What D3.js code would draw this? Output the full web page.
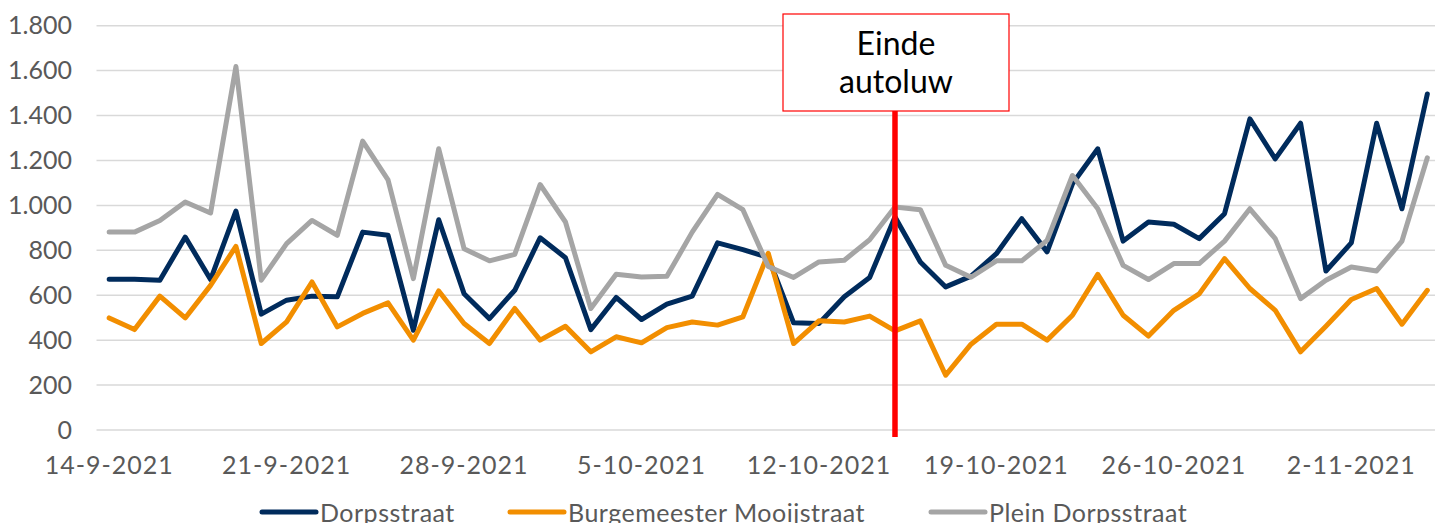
<!DOCTYPE html>
<html>
<head>
<meta charset="utf-8">
<script src="https://cdn.jsdelivr.net/npm/d3@7"></script>
<style>
  html, body { margin: 0; padding: 0; background: #fff; overflow: hidden; }
  text { font-family: Lato, "Open Sans", sans-serif; }
</style>
</head>
<body>
<svg id="chart"></svg>
<script>
// Data
const startDate = new Date(2021, 8, 14);
const endDate = new Date(2021, 10, 6); // exclusive -> last day 5-11-2021
const days = d3.timeDay.range(startDate, endDate);

const dorpsstraat = [671,671,667,859,670,975,516,578,596,593,
    881,867,444,936,607,496,622,856,767,447,
    590,492,560,596,833,803,768,477,474,593,
    679,948,748,637,685,785,941,793,1096,1252,
    841,926,916,852,963,1385,1207,1366,708,833,
    1366,985,1496];
const burgemeester = [499,447,596,499,644,818,385,481,659,459,
    519,566,400,619,474,385,541,400,462,348,
    415,388,456,481,467,504,787,385,486,481,
    507,441,486,244,382,471,471,400,511,693,
    511,418,533,606,763,630,533,348,462,581,
    630,471,622];
const plein = [881,881,933,1015,966,1618,667,830,933,867,
    1286,1114,674,1252,807,753,782,1093,926,541,
    693,681,684,881,1049,981,728,679,748,756,
    847,993,981,733,680,753,753,844,1133,985,
    733,670,741,741,841,985,852,585,667,726,
    708,841,1212];

const seriesNames = ["Dorpsstraat", "Burgemeester Mooijstraat", "Plein Dorpsstraat"];
const seriesColors = ["#002b5c", "#f28e00", "#a5a5a5"];
const yTicks = [0, 200, 400, 600, 800, 1000, 1200, 1400, 1600, 1800];
const tickLabels = ["14-9-2021", "21-9-2021", "28-9-2021", "5-10-2021", "12-10-2021", "19-10-2021", "26-10-2021", "2-11-2021"];
const markerDate = new Date(2021, 9, 15);
const markerText = ["Einde", "autoluw"];

const width = 1435, height = 523;
const svg = d3.select("#chart").attr("width", width).attr("height", height);

const fmtDay = d3.timeFormat("%-d-%-m-%Y");
const cats = days.map(fmtDay);

const x = d3.scaleBand().domain(cats).range([96.5, 1440]).padding(0);
const y = d3.scaleLinear().domain([0, 1800]).range([430, 25.7]);
const cx = d => x(d) + x.bandwidth() / 2;

// Gridlines
svg.append("g")
    .selectAll("line")
    .data(yTicks)
    .join("line")
    .attr("x1", 96.5)
    .attr("x2", 1440)
    .attr("y1", d => y(d))
    .attr("y2", d => y(d))
    .attr("stroke", "#d9d9d9")
    .attr("stroke-width", 1.5);

// Y axis labels
const yAxis = d3.axisLeft(y)
    .tickValues(yTicks)
    .tickSize(0)
    .tickPadding(0)
    .tickFormat(d => d3.format(",")(d).replace(/,/g, "."));
svg.append("g")
    .attr("transform", "translate(72,0)")
    .call(yAxis)
    .call(g => g.select(".domain").remove())
    .call(g => g.selectAll("text")
        .attr("fill", "#595959")
        .attr("font-size", "25px")
        .style("font-family", "Lato, sans-serif"));

// X axis labels
const xAxis = d3.axisBottom(x)
    .tickValues(tickLabels)
    .tickSize(0)
    .tickPadding(0);
svg.append("g")
    .attr("transform", "translate(0,474)")
    .call(xAxis)
    .call(g => g.select(".domain").remove())
    .call(g => g.selectAll("text")
        .attr("y", 0)
        .attr("dy", 0)
        .attr("fill", "#595959")
        .attr("font-size", "25px")
        .attr("letter-spacing", "1px")
        .style("font-family", "Lato, sans-serif"));

// Lines
const allSeries = [dorpsstraat, burgemeester, plein];
const line = d3.line()
    .x((d, i) => cx(cats[i]))
    .y(d => y(d));

allSeries.forEach((vals, k) => {
    svg.append("path")
        .datum(vals)
        .attr("d", line)
        .attr("fill", "none")
        .attr("stroke", seriesColors[k])
        .attr("stroke-width", 5)
        .attr("stroke-linejoin", "round")
        .attr("stroke-linecap", "round");
});

// Marker: red line + annotation box
const mx = cx(fmtDay(markerDate));
svg.append("line")
    .attr("x1", mx)
    .attr("x2", mx)
    .attr("y1", 111)
    .attr("y2", 437)
    .attr("stroke", "#ff0000")
    .attr("stroke-width", 5.5);

svg.append("rect")
    .attr("x", 783)
    .attr("y", 14)
    .attr("width", 226)
    .attr("height", 97)
    .attr("fill", "#fff")
    .attr("stroke", "#ff0000")
    .attr("stroke-width", 1.2);

svg.append("g")
    .selectAll("text")
    .data(markerText)
    .join("text")
    .attr("x", 896)
    .attr("y", (d, i) => 55 + i * 38)
    .attr("text-anchor", "middle")
    .attr("fill", "#000")
    .attr("font-size", "32px")
    .text(d => d);

// Legend
const legendX = [262, 510, 931];
const legend = svg.append("g");
seriesNames.forEach((name, k) => {
    legend.append("line")
        .attr("x1", legendX[k])
        .attr("x2", legendX[k] + 54)
        .attr("y1", 512)
        .attr("y2", 512)
        .attr("stroke", seriesColors[k])
        .attr("stroke-width", 5)
        .attr("stroke-linecap", "round");
    legend.append("text")
        .attr("x", legendX[k] + 58)
        .attr("y", 522)
        .attr("fill", "#595959")
        .attr("font-size", "25px")
        .attr("letter-spacing", "0.5px")
        .text(name);
});
</script>
</body>
</html>
